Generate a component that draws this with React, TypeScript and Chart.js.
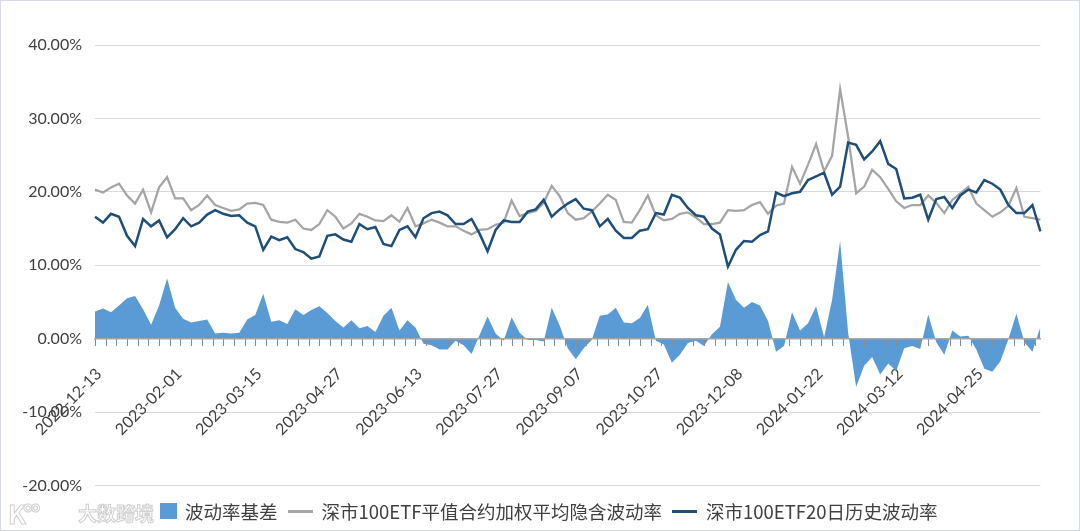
import React, { useEffect, useRef } from 'react';
import { Chart, registerables } from 'chart.js';

Chart.register(...registerables);

// Date labels shown on the category axis (one every 30 trading days)
const tickDates = [
  '2022-12-13', '2023-02-01', '2023-03-15', '2023-04-27', '2023-06-13', '2023-07-27',
  '2023-09-07', '2023-10-27', '2023-12-08', '2024-01-22', '2024-03-12', '2024-04-25',
];
// One sample every 3 trading days -> a date label every 10 samples
const LABEL_EVERY = 10;
// Minor tick marks every 4 trading days (= 4/3 samples)
const TICK_MARK_EVERY = 4 / 3;

const seriesNames = ['波动率基差', '深市100ETF平值合约加权平均隐含波动率', '深市100ETF20日历史波动率'];

// 深市100ETF平值合约加权平均隐含波动率 (%)
const impliedVol = [
  20.3, 19.9, 20.6, 21.1, 19.5, 18.4, 20.3, 17.2, 20.6, 22.0,
  19.1, 19.1, 17.5, 18.2, 19.5, 18.2, 17.8, 17.4, 17.6, 18.4,
  18.5, 18.2, 16.2, 15.9, 15.8, 16.2, 15.0, 14.8, 15.6, 17.5,
  16.6, 15.0, 15.7, 17.0, 16.6, 16.1, 16.0, 16.8, 15.9, 17.8,
  15.3, 15.7, 16.2, 15.8, 15.3, 15.3, 14.7, 14.2, 14.8, 14.9,
  15.5, 15.8, 18.8, 16.7, 17.1, 17.4, 18.5, 20.8, 19.4, 17.1,
  16.2, 16.4, 17.3, 18.4, 19.6, 18.9, 15.9, 15.8, 17.5, 19.5,
  16.8, 16.1, 16.3, 17.0, 17.2, 16.5, 15.6, 15.6, 15.8, 17.5,
  17.4, 17.5, 18.2, 18.6, 17.0, 18.1, 18.4, 23.4, 21.1, 23.7,
  26.5, 22.8, 24.9, 34.0, 27.5, 19.8, 20.7, 23.0, 22.0, 20.4,
  18.7, 17.8, 18.2, 18.2, 19.5, 18.5, 17.1, 18.9, 19.8, 20.7,
  18.4, 17.5, 16.6, 17.2, 18.1, 20.5, 16.6, 16.4, 16.2,
];

// 深市100ETF20日历史波动率 (%)
const histVol = [
  16.6, 15.8, 17.0, 16.6, 14.0, 12.6, 16.3, 15.3, 16.1, 13.8,
  14.9, 16.4, 15.3, 15.8, 16.9, 17.5, 17.0, 16.7, 16.8, 15.8,
  15.3, 12.1, 13.9, 13.4, 13.8, 12.2, 11.8, 10.9, 11.2, 14.0,
  14.2, 13.5, 13.2, 15.6, 14.9, 15.2, 12.9, 12.6, 14.8, 15.3,
  13.8, 16.4, 17.1, 17.3, 16.8, 15.6, 15.6, 16.3, 14.3, 11.9,
  14.8, 16.1, 15.9, 15.9, 17.3, 17.6, 18.9, 16.6, 17.6, 18.4,
  19.0, 17.7, 17.5, 15.3, 16.3, 14.7, 13.7, 13.7, 14.7, 14.9,
  17.1, 16.9, 19.6, 19.2, 17.8, 16.8, 16.6, 15.0, 14.2, 9.8,
  12.1, 13.3, 13.2, 14.1, 14.6, 19.9, 19.4, 19.8, 20.0, 21.6,
  22.1, 22.6, 19.6, 20.7, 26.7, 26.4, 24.4, 25.5, 26.9, 23.8,
  23.1, 19.1, 19.2, 19.6, 16.2, 19.0, 19.3, 17.8, 19.5, 20.3,
  19.9, 21.6, 21.1, 20.3, 18.2, 17.1, 17.1, 18.2, 14.6,
];

// 波动率基差 (%)
const basis = [
  3.7, 4.1, 3.6, 4.5, 5.5, 5.8, 4.0, 1.9, 4.5, 8.2,
  4.2, 2.7, 2.2, 2.4, 2.6, 0.7, 0.8, 0.7, 0.8, 2.6,
  3.2, 6.1, 2.3, 2.5, 2.0, 4.0, 3.2, 3.9, 4.4, 3.5,
  2.4, 1.5, 2.5, 1.4, 1.7, 0.9, 3.1, 4.2, 1.1, 2.5,
  1.5, -0.7, -0.9, -1.5, -1.5, -0.3, -0.9, -2.1, 0.5, 3.0,
  0.7, -0.3, 2.9, 0.8, -0.2, -0.2, -0.4, 4.2, 1.8, -1.3,
  -2.8, -1.3, -0.2, 3.1, 3.3, 4.2, 2.2, 2.1, 2.8, 4.6,
  -0.3, -0.8, -3.3, -2.2, -0.6, -0.3, -1.0, 0.6, 1.6, 7.7,
  5.3, 4.2, 5.0, 4.5, 2.4, -1.8, -1.0, 3.6, 1.1, 2.1,
  4.4, 0.2, 5.3, 13.3, 0.8, -6.6, -3.7, -2.5, -4.9, -3.4,
  -4.4, -1.3, -1.0, -1.4, 3.3, -0.5, -2.2, 1.1, 0.3, 0.4,
  -1.5, -4.1, -4.5, -3.1, -0.1, 3.4, -0.5, -1.8, 1.6,
];

const yMin = -20;
const yMax = 40;
const yStep = 10;

const COLORS = { basis: '#5b9bd5', implied: '#a5a5a5', hist: '#1f4e79' };
const LABEL_FONT = { family: 'Lato', size: 16 };
const CJK = '"Noto Sans CJK SC", "Noto Sans", sans-serif';

// Small downward tick marks along the zero axis, placed through the category scale
const tickMarksPlugin = {
  id: 'tickMarks',
  afterDatasetsDraw(chart: any) {
    const xs = chart.scales.x;
    const ys = chart.scales.y;
    const ctx = chart.ctx;
    const y0 = Math.round(ys.getPixelForValue(0));
    const last = chart.data.labels.length - 1;
    ctx.save();
    ctx.strokeStyle = '#8c8c8c';
    ctx.lineWidth = 1;
    ctx.beginPath();
    for (let v = 0; v <= last + 1e-6; v += TICK_MARK_EVERY) {
      const px = Math.round(xs.getPixelForValue(v)) + 0.5;
      ctx.moveTo(px, y0);
      ctx.lineTo(px, y0 + 7);
    }
    ctx.stroke();
    ctx.restore();
  },
};

export default function App() {
  const ref = useRef<HTMLCanvasElement>(null);

  useEffect(() => {
    const labels = impliedVol.map((_, i) =>
      i % LABEL_EVERY === 0 ? tickDates[i / LABEL_EVERY] ?? '' : ''
    );
    const chart = new Chart(ref.current as HTMLCanvasElement, {
      type: 'line',
      data: {
        labels,
        datasets: [
          {
            label: seriesNames[0],
            data: basis,
            fill: 'origin',
            backgroundColor: COLORS.basis,
            borderColor: 'rgba(0,0,0,0)',
            borderWidth: 0,
            pointRadius: 0,
            tension: 0,
            order: 3,
          },
          {
            label: seriesNames[1],
            data: impliedVol,
            fill: false,
            borderColor: COLORS.implied,
            borderWidth: 2.25,
            pointRadius: 0,
            tension: 0,
            order: 2,
          },
          {
            label: seriesNames[2],
            data: histVol,
            fill: false,
            borderColor: COLORS.hist,
            borderWidth: 2.5,
            pointRadius: 0,
            tension: 0,
            order: 1,
          },
        ],
      },
      plugins: [tickMarksPlugin],
      options: {
        animation: false,
        responsive: true,
        maintainAspectRatio: false,
        layout: { padding: { top: 45, right: 38, bottom: 15, left: 0 } },
        plugins: { legend: { display: false }, tooltip: { enabled: false } },
        scales: {
          y: {
            min: yMin,
            max: yMax,
            ticks: {
              stepSize: yStep,
              callback: (v: any) => Number(v).toFixed(2) + '%',
              font: LABEL_FONT,
              color: '#404040',
              padding: 13,
            },
            grid: { color: '#d9d9d9', lineWidth: 1, drawTicks: false },
            border: { display: false },
            afterFit: (s: any) => {
              s.width = 95;
            },
          },
          x: {
            type: 'category',
            position: { y: 0 },
            ticks: {
              autoSkip: false,
              maxRotation: 45,
              minRotation: 45,
              font: LABEL_FONT,
              color: '#404040',
              padding: 26,
              labelOffset: 4,
            },
            grid: { drawOnChartArea: false, drawTicks: false },
            border: { display: true, color: '#a6a6a6', width: 1.5, z: 1 },
            afterFit: (s: any) => {
              s.height = 0;
            },
          },
        } as any,
      },
    });
    return () => chart.destroy();
  }, []);

  const legendText: React.CSSProperties = {
    fontFamily: CJK,
    fontSize: 18.5,
    color: '#404040',
    whiteSpace: 'nowrap',
    lineHeight: '22px',
  };
  const lineMarker = (color: string): React.CSSProperties => ({
    display: 'inline-block',
    width: 25,
    height: 3,
    background: color,
    margin: '0 9px 0 10px',
  });

  return (
    <div
      style={{
        position: 'fixed',
        left: 0,
        top: 0,
        width: 1080,
        height: 531,
        background: '#fff',
        overflow: 'hidden',
      }}
    >
      <div style={{ position: 'absolute', left: 0, top: 0, width: 1080, height: 508 }}>
        <canvas ref={ref} />
      </div>
      <div
        style={{
          position: 'absolute',
          left: 8,
          top: 498,
          height: 30,
          display: 'flex',
          alignItems: 'center',
          fontFamily: CJK,
          color: 'rgba(255,255,255,0.9)',
          WebkitTextStroke: '1px #cfcfcf',
        }}
      >
        <span
          style={{
            fontSize: 26,
            lineHeight: '30px',
            fontWeight: 700,
            width: 70,
            letterSpacing: -3,
          }}
        >
          K°°
        </span>
        <span style={{ fontSize: 19, lineHeight: '30px', fontWeight: 700 }}>大数跨境</span>
      </div>
      <div
        style={{
          position: 'absolute',
          left: 160,
          top: 500,
          height: 22,
          display: 'flex',
          alignItems: 'center',
        }}
      >
        <span
          style={{
            display: 'inline-block',
            width: 17,
            height: 16,
            background: COLORS.basis,
            marginRight: 8,
          }}
        />
        <span style={legendText}>{seriesNames[0]}</span>
        <span style={lineMarker(COLORS.implied)} />
        <span style={legendText}>{seriesNames[1]}</span>
        <span style={lineMarker(COLORS.hist)} />
        <span style={legendText}>{seriesNames[2]}</span>
      </div>
      <div
        style={{
          position: 'absolute',
          left: 0,
          top: 0,
          width: 1080,
          height: 531,
          boxSizing: 'border-box',
          border: '1px solid #d6dbe3',
          pointerEvents: 'none',
        }}
      />
    </div>
  );
}
